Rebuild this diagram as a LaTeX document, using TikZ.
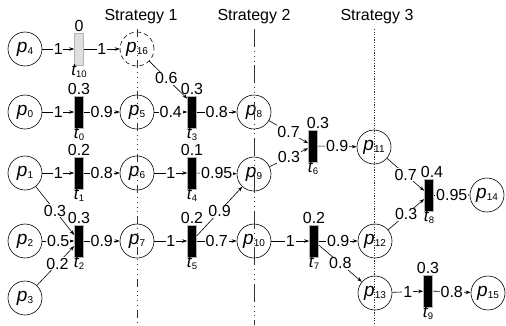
\documentclass[tikz,border=0pt]{standalone}
\usepackage{fontspec}
\setmainfont{Liberation Sans}
\usetikzlibrary{arrows.meta}
\newcommand\sbl[2]{{\fontsize{19}{19}\selectfont\itshape #1}\kern0.2pt{\fontsize{10}{10}\selectfont\raisebox{-2.5pt}{#2}}}
\newcommand\tbl[2]{{\fontsize{17}{17}\selectfont\itshape #1}\kern0.2pt{\fontsize{9.5}{9.5}\selectfont\raisebox{-2pt}{#2}}}
\begin{document}
\begin{tikzpicture}[x=1pt,y=-1pt,
  every node/.style={font=\fontsize{16}{18}\selectfont},
  place/.style={circle,draw,minimum size=34pt,inner sep=0pt,line width=0.6pt},
  dplace/.style={place,dash pattern=on 4.5pt off 3pt},
  trans/.style={rectangle,fill=black,draw=gray!60,minimum width=9pt,minimum height=32pt,inner sep=0pt,line width=0.6pt},
  gtrans/.style={trans,fill=gray!25,draw=gray!60},
  arc/.style={-{Stealth[length=5pt,width=3.5pt]},line width=0.6pt},
  w/.style={fill=white,inner sep=0.8pt},
  every label/.style={inner sep=0pt},
  label distance=1pt,
  bl/.style={label={[label distance=-0.5pt]below:\tbl{t}{#1}}},
  strat/.style={line width=0.6pt,black!80}]
\useasboundingbox (0,0) rectangle (506,325);
% strategy titles
\node (s1) at (141,17) {Strategy 1};
\node (s2) at (254,17) {Strategy 2};
\node (s3) at (377,17) {Strategy 3};
% places
\node[place] (p4) at (25,49) {\sbl{p}{4}};
\node[dplace] (p16) at (137,49) {\sbl{p}{16}};
\node[place] (p0) at (25,112) {\sbl{p}{0}};
\node[place] (p5) at (137,112) {\sbl{p}{5}};
\node[place] (p8) at (254,112) {\sbl{p}{8}};
\node[place] (p1) at (25,173) {\sbl{p}{1}};
\node[place] (p6) at (137,173) {\sbl{p}{6}};
\node[place] (p9) at (254,174) {\sbl{p}{9}};
\node[place] (p11) at (374,147) {\sbl{p}{11}};
\node[place] (p14) at (487,195) {\sbl{p}{14}};
\node[place] (p2) at (25,241) {\sbl{p}{2}};
\node[place] (p7) at (137,241) {\sbl{p}{7}};
\node[place] (p10) at (254,241) {\sbl{p}{10}};
\node[place] (p12) at (375,241) {\sbl{p}{12}};
\node[place] (p3) at (25,298) {\sbl{p}{3}};
\node[place] (p13) at (375,293) {\sbl{p}{13}};
\node[place] (p15) at (488,293) {\sbl{p}{15}};
% transitions
\node[gtrans,label={above:0},bl=10] (t10) at (79,49) {};
\node[trans,label={above:0.3},bl=0] (t0) at (79,112) {};
\node[trans,label={above:0.2},bl=1] (t1) at (79,173) {};
\node[trans,label={above:0.3},bl=2] (t2) at (79,241) {};
\node[trans,label={above:0.3},bl=3] (t3) at (192,112) {};
\node[trans,label={above:0.1},bl=4] (t4) at (192,173) {};
\node[trans,label={above:0.2},bl=5] (t5) at (192,241) {};
\node[trans,label={[xshift=5pt]above:0.3},bl=6] (t6) at (313,146) {};
\node[trans,label={above:0.2},bl=7] (t7) at (314,241) {};
\node[trans,label={[xshift=3pt]above:0.4},bl=8] (t8) at (429,195) {};
\node[trans,label={above:0.3},bl=9] (t9) at (428,291) {};
% strategy lines
\coordinate (a1) at (137,29); \coordinate (b1) at (137,325);
\coordinate (a2) at (254,29); \coordinate (b2) at (254,325);
\coordinate (a3) at (374,29); \coordinate (b3) at (374,325);
\draw[strat,dash pattern=on 8pt off 4pt on 0.8pt off 4pt on 0.8pt off 4pt on 0.8pt off 4pt on 0.8pt off 4pt] (a1) -- (b1);
\draw[strat,dash pattern=on 18pt off 4pt on 0.8pt off 4pt on 0.8pt off 4pt on 0.8pt off 4pt] (a2) -- (b2);
\draw[strat,dash pattern=on 1.2pt off 1.4pt] (a3) -- (b3);
% arcs
\draw[arc] (p4) -- node[w]{1} (t10);
\draw[arc] (t10) -- node[w]{1} (p16);
\draw[arc] (p16) -- node[w,pos=0.45]{0.6} ([yshift=-3pt]t3.north west);
\draw[arc] (p0) -- node[w]{1} (t0);
\draw[arc] (t0) -- node[w]{0.9} (p5);
\draw[arc] (p5) -- node[w]{0.4} (t3);
\draw[arc] (t3) -- node[w]{0.8} (p8);
\draw[arc] (p8) -- node[w]{0.7} (t6);
\draw[arc] (p9) -- node[w]{0.3} (t6);
\draw[arc] (t6) -- node[w]{0.9} (p11);
\draw[arc] (p11) -- node[w]{0.7} (t8);
\draw[arc] (p12) -- node[w]{0.3} (t8);
\draw[arc] (t8) -- node[w]{0.95} (p14);
\draw[arc] (p1) -- node[w]{1} (t1);
\draw[arc] (t1) -- node[w]{0.8} (p6);
\draw[arc] (p6) -- node[w]{1} (t4);
\draw[arc] (t4) -- node[w]{0.95} (p9);
\draw[arc] (p1) -- node[w]{0.3} (t2);
\draw[arc] (p2) -- node[w]{0.5} (t2);
\draw[arc] (p3) -- node[w,pos=0.55]{0.2} (t2);
\draw[arc] (t2) -- node[w]{0.9} (p7);
\draw[arc] (p7) -- node[w]{1} (t5);
\draw[arc] (t5) -- node[w]{0.7} (p10);
\draw[arc] (t5) -- node[w]{0.9} (p9);
\draw[arc] (p10) -- node[w]{1} (t7);
\draw[arc] (t7) -- node[w]{0.9} (p12);
\draw[arc] (t7) -- node[w]{0.8} (p13);
\draw[arc] (p13) -- node[w]{1} (t9);
\draw[arc] (t9) -- node[w]{0.8} (p15);
\end{tikzpicture}
\end{document}
